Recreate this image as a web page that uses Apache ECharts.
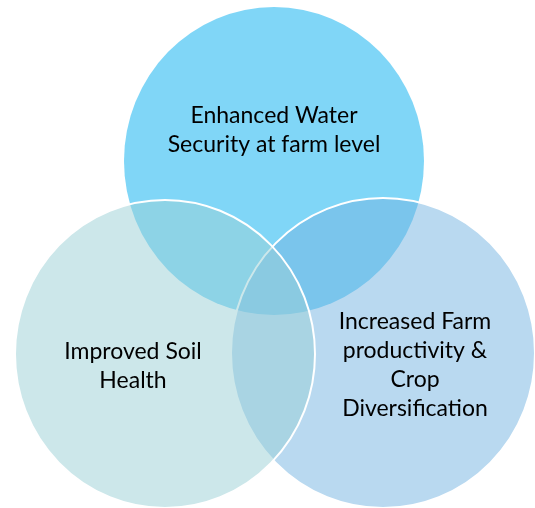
<!DOCTYPE html>
<html>
<head>
<meta charset="utf-8">
<script src="https://cdn.jsdelivr.net/npm/echarts@6/dist/echarts.min.js"></script>
<style>
  html, body { margin: 0; padding: 0; background: #fff; }
  #chart { width: 535px; height: 508px; }
</style>
</head>
<body>
<div id="chart"></div>
<script>
// sets of the venn diagram, in drawing order (top, right, left)
const setNames = [
  'Enhanced Water\nSecurity at farm level',
  'Increased Farm\nproductivity &\nCrop\nDiversification',
  'Improved Soil\nHealth'
]
const centerX = [274, 383, 165]
const centerY = [161, 353, 354]
const radiusX = [150, 152, 150]
const radiusY = [154, 155, 154]
const labelX = [274, 415, 133]
const labelY = [130, 365, 366]

const fills = ['rgb(128,214,247)', 'rgba(115,179,225,0.5)', 'rgba(153,207,213,0.5)']
const strokes = [null, '#ffffff', '#ffffff']

const chart = echarts.init(document.getElementById('chart'))

const circleData = centerX.map((x, i) => [x, centerY[i], radiusX[i], radiusY[i]])
const labelData = labelX.map((x, i) => [x, labelY[i], setNames[i]])

chart.setOption({
  backgroundColor: '#ffffff',
  animation: false,
  grid: { left: 0, right: 0, top: 0, bottom: 0 },
  xAxis: { type: 'value', min: 0, max: 535, show: false },
  yAxis: { type: 'value', min: 0, max: 508, inverse: true, show: false },
  series: [{
    type: 'custom',
    renderItem(params, api) {
      const c = api.coord([api.value(0), api.value(1)])
      const sz = api.size([api.value(2), api.value(3)])
      const i = params.dataIndex
      return {
        type: 'circle',
        x: c[0],
        y: c[1],
        scaleY: sz[1] / sz[0],
        shape: { cx: 0, cy: 0, r: sz[0] },
        style: {
          fill: fills[i],
          stroke: strokes[i],
          lineWidth: strokes[i] ? 2 : 0,
          strokeNoScale: true
        }
      }
    },
    data: circleData
  }, {
    type: 'custom',
    z: 10,
    renderItem(params, api) {
      const c = api.coord([api.value(0), api.value(1)])
      return {
        type: 'text',
        x: c[0],
        y: c[1],
        style: {
          text: labelData[params.dataIndex][2],
          fill: '#000000',
          font: '23px Lato',
          align: 'center',
          verticalAlign: 'middle',
          lineHeight: 29
        }
      }
    },
    data: labelData
  }]
})
</script>
</body>
</html>
